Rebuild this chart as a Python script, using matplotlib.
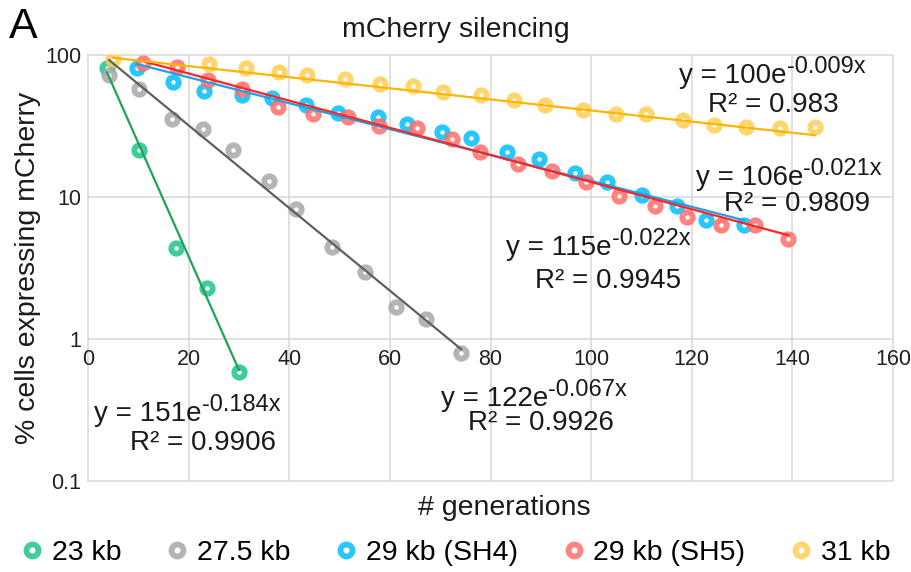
import numpy as np
import matplotlib
matplotlib.use('Agg')
from matplotlib import pyplot as plt
from matplotlib.ticker import FixedLocator, FixedFormatter, NullLocator

plt.rcParams['font.family'] = ['Liberation Sans', 'DejaVu Sans']

# Data (generations, % cells expressing mCherry)
gen_23 = [3.8, 10.1, 17.5, 23.7, 30.0]
pct_23 = [81, 21.4, 4.4, 2.3, 0.59]

gen_275 = [4.2, 10.1, 16.7, 22.9, 28.8, 36.0, 41.4, 48.5, 55.1, 61.2, 67.2, 74.2]
pct_275 = [72.3, 57.6, 35.4, 30.1, 21.4, 13.0, 8.2, 4.45, 2.96, 1.68, 1.38, 0.80]

gen_sh4 = [9.7, 16.9, 23.1, 30.6, 36.6, 43.3, 49.7, 57.7, 63.4, 70.4, 76.1, 83.3,
           89.7, 96.8, 103.2, 110.1, 117.1, 122.9, 130.4]
pct_sh4 = [81, 64.5, 55.8, 52.3, 49.8, 44.5, 39.1, 36.6, 32.7, 28.7, 26.0, 20.7,
           18.5, 14.8, 12.8, 10.3, 8.65, 6.89, 6.35]

gen_sh5 = [10.9, 17.7, 23.8, 30.6, 37.8, 44.7, 51.7, 57.9, 65.4, 72.4, 77.9, 85.5,
           92.2, 99.0, 105.6, 112.7, 119.1, 125.8, 132.6, 139.2]
pct_sh5 = [87.9, 82.3, 66.7, 57.6, 43.0, 38.4, 36.6, 31.6, 30.6, 25.6, 20.7, 17.1,
           15.2, 12.8, 10.2, 8.65, 7.23, 6.35, 6.35, 5.06]

gen_31 = [5.0, 24.1, 31.4, 38.0, 43.5, 51.1, 58.1, 64.6, 70.6, 78.1, 84.7, 90.9,
          98.4, 105.0, 110.9, 118.3, 124.5, 130.8, 137.5, 144.5]
pct_31 = [93.7, 86.4, 81, 75.9, 72.3, 67.7, 62.5, 60.5, 54.9, 52.3, 48.2, 44.5,
          41, 38.4, 38.4, 34.9, 32.1, 31.1, 30.6, 31.1]

labels = ['23 kb', '27.5 kb', '29 kb (SH4)', '29 kb (SH5)', '31 kb']
# exponential trendlines y = a * exp(b * x) as printed on the chart
fit_a = [151, 122, 106, 115, 100]
fit_b = [-0.184, -0.067, -0.021, -0.022, -0.009]
fit_r2 = ['0.9906', '0.9926', '0.9809', '0.9945', '0.983']

series = [(gen_23, pct_23), (gen_275, pct_275), (gen_sh4, pct_sh4),
          (gen_sh5, pct_sh5), (gen_31, pct_31)]
marker_colors = ['#1fc48c', '#a8a8a8', '#00bfff', '#ff6e6a', '#ffcf55']
line_colors = ['#1ea455', '#5f5f5f', '#1f9fe8', '#ff2525', '#ffb400']
# equation label placement in figure pixels:
# (x where "e" ends, baseline of equation, centre x of R² line, baseline of R² line)
label_px = [(202, 421, 203, 450), (548, 406, 541, 430), (803, 185, 797, 211),
            (612, 255, 608, 288), (787, 83, 773, 112)]

W, H = 912, 572
fig = plt.figure(figsize=(W / 100, H / 100), dpi=100)
ax = fig.add_axes([88 / W, 1 - 481 / H, 805 / W, 426 / H])

ax.set_yscale('log')
ax.set_xlim(0, 160)
ax.set_ylim(0.1, 100)

handles = []
for (x, y), mc, lc, a, b, r2, lp, lab in zip(series, marker_colors, line_colors,
                                            fit_a, fit_b, fit_r2, label_px, labels):
    h, = ax.plot(x, y, 'o', ls='none', ms=7.5, mew=4.2, mfc='white', mec=mc,
                 alpha=0.85, zorder=3, label=lab)
    handles.append(h)
    xs = np.linspace(min(x), max(x), 100)
    ax.plot(xs, a * np.exp(b * xs), color=lc, lw=1.6, zorder=4)
    ex, eb, rx, rb = lp
    fig.text(ex / W, 1 - eb / H, f'y = {a}e', ha='right', va='baseline',
             fontsize=20, color='#1a1a1a')
    fig.text(ex / W, 1 - (eb - 10) / H, f'{b:.3f}x', ha='left', va='baseline',
             fontsize=17, color='#1a1a1a')
    fig.text(rx / W, 1 - rb / H, f'R² = {r2}', ha='center', va='baseline',
             fontsize=20, color='#1a1a1a')

# axes styling: Excel-like gridlines, x axis crossing at y = 1
ax.xaxis.set_major_locator(FixedLocator([0, 20, 40, 60, 80, 100, 120, 140, 160]))
ax.yaxis.set_major_locator(FixedLocator([0.1, 1, 10, 100]))
ax.yaxis.set_major_formatter(FixedFormatter(['0.1', '1', '10', '100']))
ax.yaxis.set_minor_locator(NullLocator())
ax.grid(True, color='#dadada', lw=1.2, zorder=0)
for s in ax.spines.values():
    s.set_visible(False)
ax.spines['bottom'].set_position(('data', 1))
ax.tick_params(axis='both', length=0, labelsize=15.5, colors='#222222')
ax.tick_params(axis='x', pad=7)
ax.tick_params(axis='y', pad=5)
for gl in ax.get_xgridlines() + ax.get_ygridlines():
    gl.set_clip_on(False)

fig.text(0.5, 1 - 37 / H, 'mCherry silencing', ha='center', va='baseline', fontsize=20.5, color='#1a1a1a')
fig.text(9 / W, 1 - 38 / H, 'A', ha='left', va='baseline', fontsize=31, color='black')
fig.text(28 / W, 1 - 268 / H, '% cells expressing mCherry', rotation=90,
         ha='center', va='center', fontsize=20.5, color='#1a1a1a')
fig.text(504 / W, 1 - 508 / H, '# generations', ha='center', va='center',
         fontsize=20.5, color='#1a1a1a')

fig.legend(handles=handles, loc='center', bbox_to_anchor=(457 / W, 1 - 553 / H),
           ncol=5, frameon=False, fontsize=20.5, handlelength=0.6, handletextpad=0.4,
           columnspacing=1.65, borderaxespad=0, markerscale=1.15)

plt.savefig('out.png', dpi=100)
